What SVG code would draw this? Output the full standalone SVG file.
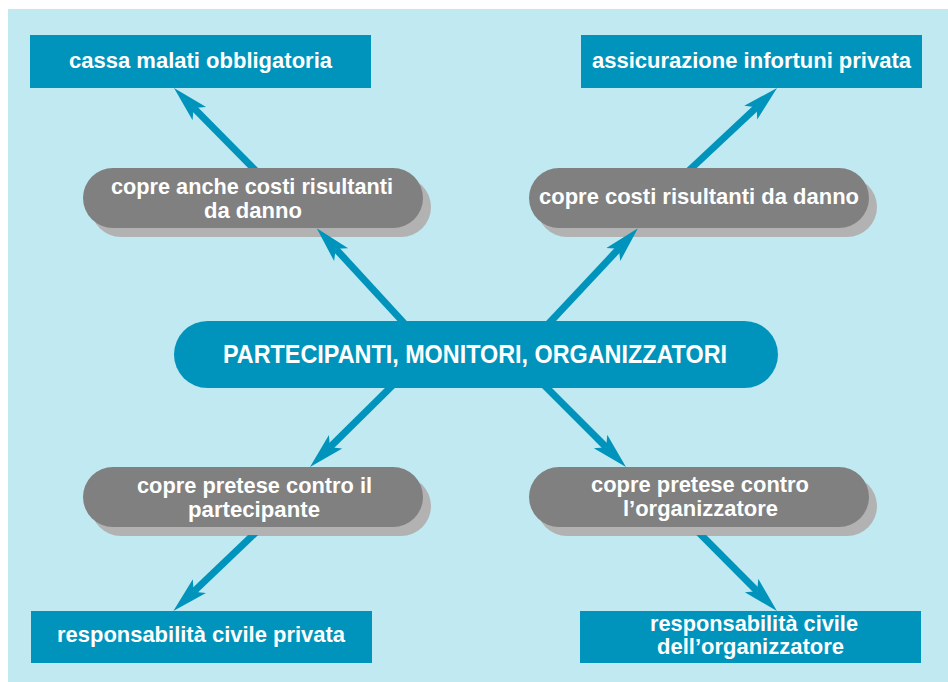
<svg xmlns="http://www.w3.org/2000/svg" width="948" height="682" viewBox="0 0 948 682">
  <defs>
    <style>
      .box{fill:#0094bc}
      .pill{fill:#808080}
      .shadow{fill:#b2b2b2}
      .lbl{font-family:"Liberation Sans",Arial,sans-serif;font-weight:bold;font-size:21.5px;fill:#ffffff;text-anchor:middle}
      .main{font-size:25px}
      .conn{stroke:#0094bc;stroke-width:7;fill:none;marker-end:url(#head)}
    </style>
    <marker id="head" markerUnits="userSpaceOnUse" orient="auto" viewBox="-10 -11 40 22" refX="0" refY="0" markerWidth="40" markerHeight="22" overflow="visible">
      <path d="M28,0 L-8,-9.5 L0,0 L-8,9.5 Z" fill="#0094bc"/>
    </marker>
    <!-- lower arrows emerge from beneath the pill shadows -->
    <clipPath id="belowPills">
      <rect x="0" y="535" width="948" height="147"/>
    </clipPath>
  </defs>

  <rect width="948" height="682" fill="#ffffff"/>
  <rect x="8" y="9" width="940" height="673" fill="#c0e9f1"/>

  <!-- drop shadows of the grey pills -->
  <g id="shadows">
    <rect class="shadow" x="91" y="177" width="340" height="60" rx="30"/>
    <rect class="shadow" x="537" y="177" width="340" height="60" rx="30"/>
    <rect class="shadow" x="91" y="476" width="340" height="60" rx="30"/>
    <rect class="shadow" x="537" y="476" width="340" height="60" rx="30"/>
  </g>

  <g id="connectors">
    <path class="conn" d="M263,178 L193.7,107.9"/>
    <path class="conn" d="M415,335 L335.7,248.8"/>
    <path class="conn" d="M538,335 L618.8,248.7"/>
    <path class="conn" d="M681,178 L756.6,107.2"/>
    <path class="conn" d="M400,378 L329.9,447.3"/>
    <path class="conn" d="M537,378 L606.2,447.2"/>
    <path class="conn" d="M268.8,520 L193.6,591.7" clip-path="url(#belowPills)"/>
    <path class="conn" d="M686.3,520 L757.2,591.2" clip-path="url(#belowPills)"/>
  </g>

  <g id="centre">
    <rect class="box" x="174" y="321" width="604" height="67" rx="33.5"/>
    <text class="lbl main" x="475" y="363" textLength="504" lengthAdjust="spacingAndGlyphs">PARTECIPANTI, MONITORI, ORGANIZZATORI</text>
  </g>

  <g id="pill-top-left">
    <rect class="pill" x="83" y="168" width="340" height="60" rx="30"/>
    <text class="lbl" x="252" y="194" textLength="282" lengthAdjust="spacingAndGlyphs">copre anche costi risultanti</text>
    <text class="lbl" x="253" y="218" textLength="98" lengthAdjust="spacingAndGlyphs">da danno</text>
  </g>

  <g id="pill-top-right">
    <rect class="pill" x="529" y="168" width="340" height="60" rx="30"/>
    <text class="lbl" x="699" y="203.5" textLength="320" lengthAdjust="spacingAndGlyphs">copre costi risultanti da danno</text>
  </g>

  <g id="pill-bottom-left">
    <rect class="pill" x="83" y="467" width="340" height="60" rx="30"/>
    <text class="lbl" x="254.5" y="492.5" textLength="235" lengthAdjust="spacingAndGlyphs">copre pretese contro il</text>
    <text class="lbl" x="254" y="516.5" textLength="132" lengthAdjust="spacingAndGlyphs">partecipante</text>
  </g>

  <g id="pill-bottom-right">
    <rect class="pill" x="529" y="467" width="340" height="60" rx="30"/>
    <text class="lbl" x="700" y="492" textLength="218" lengthAdjust="spacingAndGlyphs">copre pretese contro</text>
    <text class="lbl" x="700.5" y="515.5" textLength="155" lengthAdjust="spacingAndGlyphs">l’organizzatore</text>
  </g>

  <g id="box-top-left">
    <rect class="box" x="30" y="35" width="341" height="53"/>
    <text class="lbl" x="200.5" y="68" textLength="263" lengthAdjust="spacingAndGlyphs">cassa malati obbligatoria</text>
  </g>

  <g id="box-top-right">
    <rect class="box" x="581" y="35" width="341" height="53"/>
    <text class="lbl" x="751.5" y="68" textLength="319" lengthAdjust="spacingAndGlyphs">assicurazione infortuni privata</text>
  </g>

  <g id="box-bottom-left">
    <rect class="box" x="31" y="611" width="341" height="52"/>
    <text class="lbl" x="201" y="642" textLength="288" lengthAdjust="spacingAndGlyphs">responsabilità civile privata</text>
  </g>

  <g id="box-bottom-right">
    <rect class="box" x="580" y="611" width="341" height="52"/>
    <text class="lbl" x="754" y="631" textLength="208" lengthAdjust="spacingAndGlyphs">responsabilità civile</text>
    <text class="lbl" x="750.5" y="654" textLength="187" lengthAdjust="spacingAndGlyphs">dell’organizzatore</text>
  </g>
</svg>
